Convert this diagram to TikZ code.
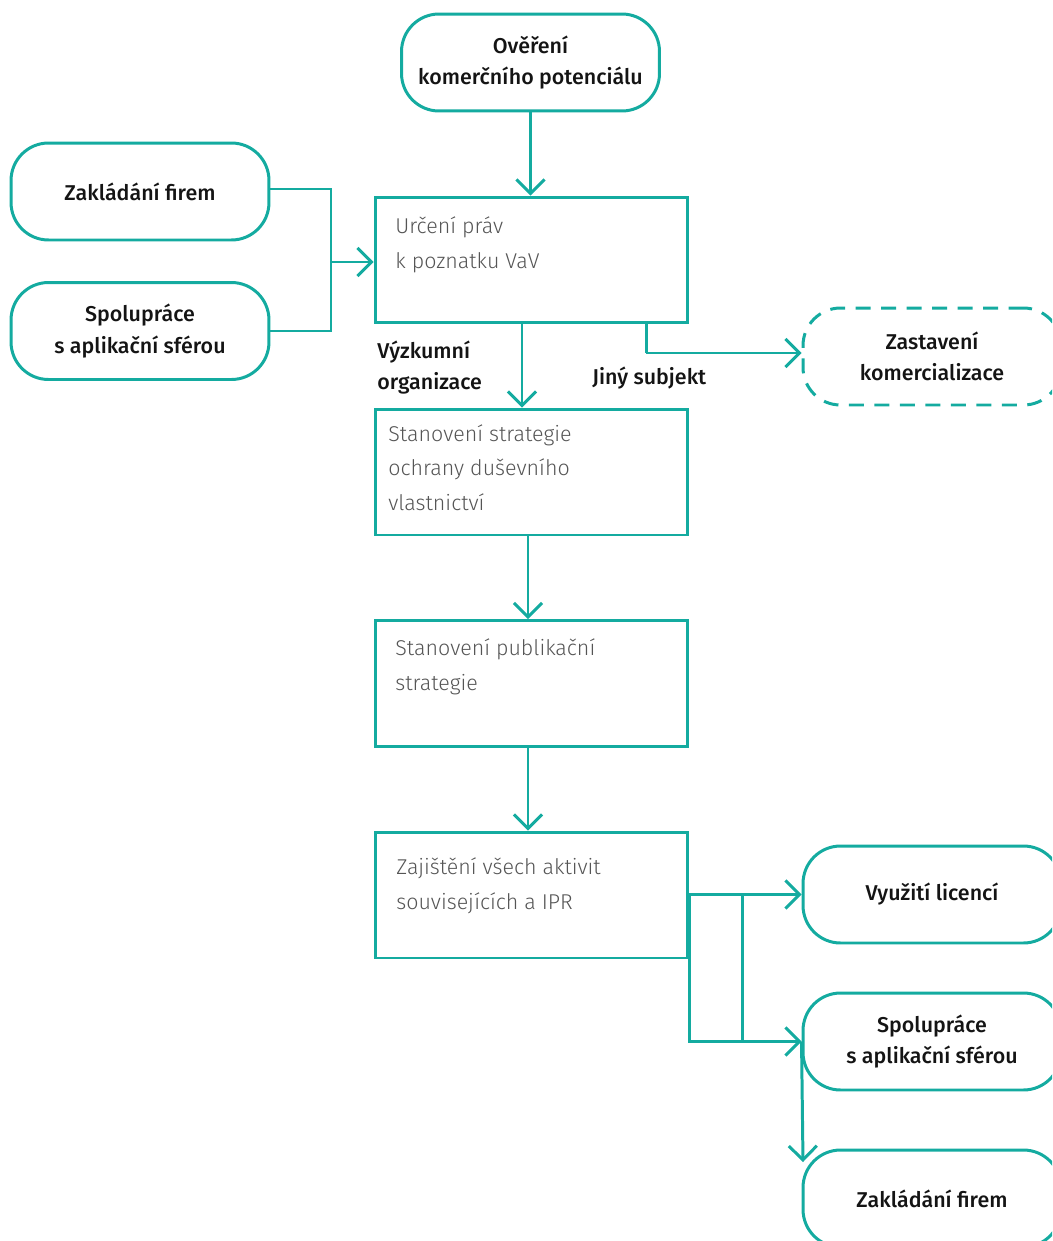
\documentclass[tikz,border=0pt]{standalone}
\usepackage{fontspec}
\usetikzlibrary{arrows.meta}
\IfFontExistsTF{Fira Sans Medium}{\newfontfamily\labfont{Fira Sans Medium}}{\newfontfamily\labfont{Fira Sans}}
\IfFontExistsTF{Fira Sans Light}{\newfontfamily\bodyfont{Fira Sans Light}}{\newfontfamily\bodyfont{Fira Sans}}
\definecolor{teal1}{RGB}{20,171,160}
\definecolor{txtgray}{RGB}{85,85,85}
\definecolor{txtblack}{RGB}{20,20,20}
\tikzset{
  conn/.style={draw=teal1, line width=1.7pt},
  arr/.style={conn, -{Straight Barb[length=8pt,width=16pt,line width=1.7pt]}},
  roundbox/.style={draw=teal1, line width=1.7pt, rectangle, rounded corners=0.75cm,
     minimum width=5.16cm, minimum height=1.94cm, inner sep=0pt,
     font=\labfont\fontsize{12.2}{18}\selectfont, text=txtblack, align=center},
  dashbox/.style={roundbox, dash pattern=on 8.5pt off 6pt},
  sqbox/.style={draw=teal1, line width=1.7pt, rectangle,
     minimum width=6.26cm, minimum height=2.52cm, inner sep=0pt},
  bodytext/.style={font=\bodyfont\fontsize{12.2}{19.5}\selectfont, text=txtgray,
     align=left, inner sep=0pt, anchor=base west},
  lab/.style={font=\labfont\fontsize{12.2}{17.5}\selectfont, text=txtblack,
     align=left, inner sep=0pt, anchor=base west}
}
\begin{document}
\begin{tikzpicture}[x=0.02cm, y=-0.02cm]
\useasboundingbox (0,0) rectangle (1052,1241);
\clip (0,0) rectangle (1052,1241);
% rounded boxes
\node[roundbox] (top) at (530.5,62.5) {Ověření\\komerčního potenciálu};
\node[roundbox] (zf1) at (140,191.5) {Zakládání firem};
\node[roundbox] (sp1) at (140,331) {Spolupráce\\s aplikační sférou};
\node[dashbox] (zast) at (932,356.5) {Zastavení\\komercializace};
\node[roundbox] (lic) at (932,894.5) {Využití licencí};
\node[roundbox] (sp2) at (932,1041.5) {Spolupráce\\s aplikační sférou};
\node[roundbox] (zf2) at (932,1198.5) {Zakládání firem};
% square boxes
\node[sqbox] (urc) at (531.5,260) {};
\node[sqbox] (sso) at (531.5,472) {};
\node[sqbox] (pub) at (531.5,683.5) {};
\node[sqbox] (zaj) at (531.5,895) {};
% box texts (anchor = baseline of the last line)
\node[bodytext] (urct) at (395,268) {Určení práv\\k poznatku VaV};
\node[bodytext] (ssot) at (388,510) {Stanovení strategie\\ochrany duševního\\vlastnictví};
\node[bodytext] (pubt) at (395,690) {Stanovení publikační\\strategie};
\node[bodytext] (zajt) at (396,909) {Zajištění všech aktivit\\souvisejících a IPR};
% labels
\node[lab] (vyz) at (377,389) {Výzkumní\\organizace};
\node[lab] (jiny) at (592,384) {Jiný subjekt};
% coordinates
\coordinate (j1) at (331,262);
\coordinate (v1) at (522,0);
\coordinate (v2) at (646,353);
\coordinate (v3) at (528,0);
\coordinate (v4) at (742,0);
\coordinate (tipz) at (803,1162);
% connectors
\draw[arr] (top.south) -- (top.south |- urc.north);
\draw[conn] (zf1.east |- 0,189) -| (j1) |- (sp1.east);
\draw[arr] (j1) -- (j1 -| urc.west);
\draw[arr] (urc.south -| v1) -- (v1 |- sso.north);
\draw[conn] (urc.south -| v2) -- (v2);
\draw[arr] (v2) -- (v2 -| zast.west);
\draw[arr] (sso.south -| v3) -- (v3 |- pub.north);
\draw[arr] (pub.south -| v3) -- (v3 |- zaj.north);
\draw[arr] (zaj.east |- lic.west) -- (lic.west);
\draw[arr] (zaj.east |- lic.west) |- (sp2.west);
\draw[conn] (v4 |- lic.west) -- (v4 |- sp2.west);
\draw[arr] (sp2.west) -- (tipz);
\end{tikzpicture}
\end{document}
